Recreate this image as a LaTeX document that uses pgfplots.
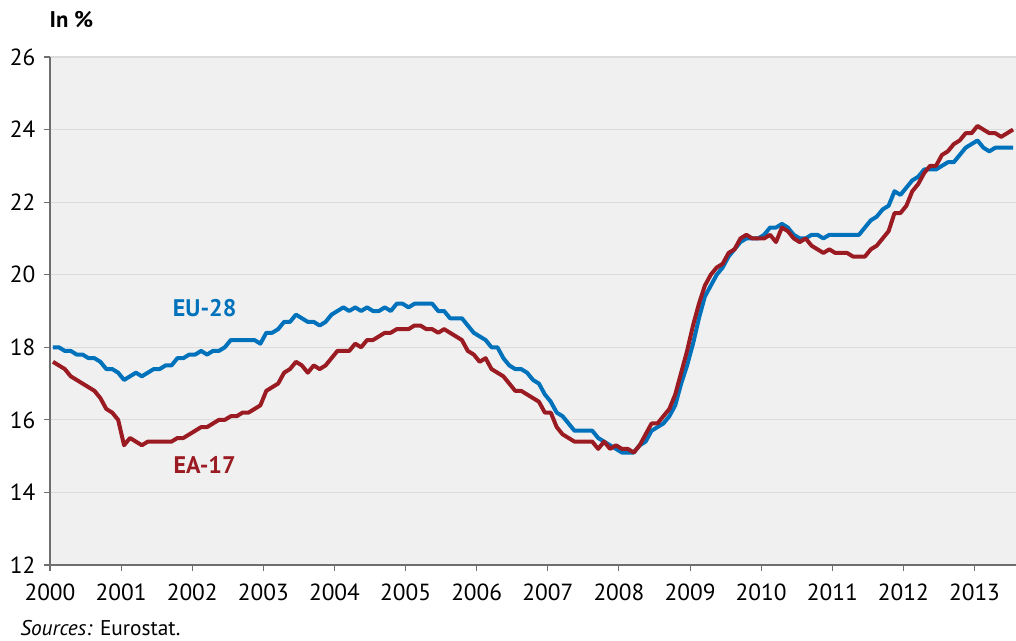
\documentclass[border=0pt]{standalone}
\usepackage{fontspec}
\setmainfont{PT Sans}
\usepackage{pgfplots}
\usepackage{pgfplotstable}
\pgfplotsset{compat=1.18}
\definecolor{eublue}{RGB}{0,114,188}
\definecolor{eared}{RGB}{155,27,35}
\definecolor{bgc}{RGB}{240,240,240}
\definecolor{gridc}{RGB}{220,220,220}
\definecolor{axc}{RGB}{110,110,110}
\pgfplotstableread{
m eu ea
0 18.0 17.6
1 18.0 17.5
2 17.9 17.4
3 17.9 17.2
4 17.8 17.1
5 17.8 17.0
6 17.7 16.9
7 17.7 16.8
8 17.6 16.6
9 17.4 16.3
10 17.4 16.2
11 17.3 16.0
12 17.1 15.3
13 17.2 15.5
14 17.3 15.4
15 17.2 15.3
16 17.3 15.4
17 17.4 15.4
18 17.4 15.4
19 17.5 15.4
20 17.5 15.4
21 17.7 15.5
22 17.7 15.5
23 17.8 15.6
24 17.8 15.7
25 17.9 15.8
26 17.8 15.8
27 17.9 15.9
28 17.9 16.0
29 18.0 16.0
30 18.2 16.1
31 18.2 16.1
32 18.2 16.2
33 18.2 16.2
34 18.2 16.3
35 18.1 16.4
36 18.4 16.8
37 18.4 16.9
38 18.5 17.0
39 18.7 17.3
40 18.7 17.4
41 18.9 17.6
42 18.8 17.5
43 18.7 17.3
44 18.7 17.5
45 18.6 17.4
46 18.7 17.5
47 18.9 17.7
48 19.0 17.9
49 19.1 17.9
50 19.0 17.9
51 19.1 18.1
52 19.0 18.0
53 19.1 18.2
54 19.0 18.2
55 19.0 18.3
56 19.1 18.4
57 19.0 18.4
58 19.2 18.5
59 19.2 18.5
60 19.1 18.5
61 19.2 18.6
62 19.2 18.6
63 19.2 18.5
64 19.2 18.5
65 19.0 18.4
66 19.0 18.5
67 18.8 18.4
68 18.8 18.3
69 18.8 18.2
70 18.6 17.9
71 18.4 17.8
72 18.3 17.6
73 18.2 17.7
74 18.0 17.4
75 18.0 17.3
76 17.7 17.2
77 17.5 17.0
78 17.4 16.8
79 17.4 16.8
80 17.3 16.7
81 17.1 16.6
82 17.0 16.5
83 16.7 16.2
84 16.5 16.2
85 16.2 15.8
86 16.1 15.6
87 15.9 15.5
88 15.7 15.4
89 15.7 15.4
90 15.7 15.4
91 15.7 15.4
92 15.5 15.2
93 15.4 15.4
94 15.3 15.2
95 15.2 15.3
96 15.1 15.2
97 15.1 15.2
98 15.1 15.1
99 15.3 15.3
100 15.4 15.6
101 15.7 15.9
102 15.8 15.9
103 15.9 16.1
104 16.1 16.3
105 16.4 16.7
106 17.0 17.3
107 17.5 17.9
108 18.1 18.6
109 18.8 19.2
110 19.4 19.7
111 19.7 20.0
112 20.0 20.2
113 20.2 20.3
114 20.5 20.6
115 20.7 20.7
116 20.9 21.0
117 21.0 21.1
118 21.0 21.0
119 21.0 21.0
120 21.1 21.0
121 21.3 21.1
122 21.3 20.9
123 21.4 21.3
124 21.3 21.2
125 21.1 21.0
126 21.0 20.9
127 21.0 21.0
128 21.1 20.8
129 21.1 20.7
130 21.0 20.6
131 21.1 20.7
132 21.1 20.6
133 21.1 20.6
134 21.1 20.6
135 21.1 20.5
136 21.1 20.5
137 21.3 20.5
138 21.5 20.7
139 21.6 20.8
140 21.8 21.0
141 21.9 21.2
142 22.3 21.7
143 22.2 21.7
144 22.4 21.9
145 22.6 22.3
146 22.7 22.5
147 22.9 22.8
148 22.9 23.0
149 22.9 23.0
150 23.0 23.3
151 23.1 23.4
152 23.1 23.6
153 23.3 23.7
154 23.5 23.9
155 23.6 23.9
156 23.7 24.1
157 23.5 24.0
158 23.4 23.9
159 23.5 23.9
160 23.5 23.8
161 23.5 23.9
162 23.5 24.0
}\data
\begin{document}
\begin{tikzpicture}
\useasboundingbox (-37.5pt,-56.25pt) rectangle (724.5pt,423.75pt);
\begin{axis}[
  scale only axis, width=724.5pt, height=381pt,
  xmin=0, xmax=163, ymin=12, ymax=26,
  axis background/.style={fill=bgc},
  axis x line*=bottom, axis y line*=left,
  axis line style={axc, line width=1.3pt, -},
  xtick={0,12,24,36,48,60,72,84,96,108,120,132,144,156},
  xticklabels={2000,2001,2002,2003,2004,2005,2006,2007,2008,2009,2010,2011,2012,2013},
  ytick={12,14,16,18,20,22,24,26},
  ymajorgrids, grid style={gridc, line width=0.8pt},
  tick align=outside, major tick length=4.5pt,
  tick style={axc, line width=0.8pt},
  tick label style={font=\fontsize{17.5}{20}\selectfont, text=black},
  xticklabel style={yshift=-6pt},
  yticklabel style={xshift=-3pt},
  /pgf/number format/assume math mode=true,
]
\addplot[eublue, line width=3pt, line join=round] table[x expr=\thisrow{m}+0.5, y=eu]{\data};
\addplot[eared, line width=3pt, line join=round] table[x expr=\thisrow{m}+0.5, y=ea]{\data};
\node[font=\bfseries\fontsize{18}{20}\selectfont, text=eublue] at (axis cs:26.1,19.08) {EU-28};
\node[font=\bfseries\fontsize{18}{20}\selectfont, text=eared] at (axis cs:26.1,14.76) {EA-17};
\end{axis}
\node[anchor=base west, inner sep=0pt, font=\bfseries\fontsize{17}{20}\selectfont] at (-0.5pt,402.75pt) {In \%};
\node[anchor=base west, inner sep=0pt, font=\fontsize{16}{20}\selectfont] at (-22.5pt,-52.5pt) {\textit{Sources:} Eurostat.};
\end{tikzpicture}
\end{document}
